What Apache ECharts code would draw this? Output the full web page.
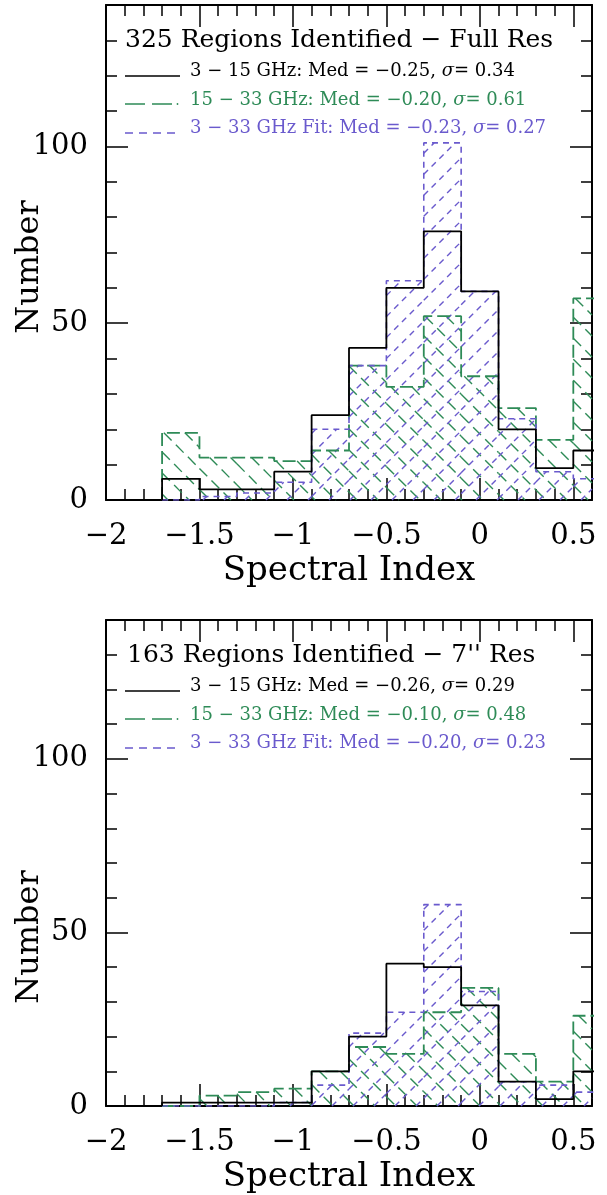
<!DOCTYPE html>
<html><head><meta charset="utf-8">
<script src="https://cdn.jsdelivr.net/npm/echarts@6/dist/echarts.min.js"></script>
<style>html,body{margin:0;padding:0;background:#fff}#c{width:607px;height:1195px}</style>
</head><body><div id="c"></div>
<script>
// ---- data ----
const binLeft = [-1.7, -1.5, -1.3, -1.1, -0.9, -0.7, -0.5, -0.3, -0.1, 0.1, 0.3, 0.5];
const binWidth = 0.2;

const fullBlack  = [6, 3, 3, 8, 24, 43, 60, 76, 59, 20, 9, 14];
const fullGreen  = [19, 12, 12, 11, 14, 38, 32, 52, 35, 26, 17, 57];
const fullPurple = [0, 1, 2, 5, 20, 38, 62, 101, 59, 23, 8, 6];

const resBlack  = [1, 1, 1, 1, 10, 20, 41, 40, 29, 7, 2, 10];
const resGreen  = [0, 3, 4, 5, 10, 17, 15, 27, 34, 15, 7, 26];
const resPurple = [0, 0, 0, 1, 6, 21, 27, 58, 33, 7, 6, 4];

const titles = ['325 Regions Identified \u2212 Full Res', "163 Regions Identified \u2212 7'' Res"];
const legendTexts = [
  ['3 \u2212 15 GHz: Med = \u22120.25, {i|\u03c3}= 0.34', '15 \u2212 33 GHz: Med = \u22120.20, {i|\u03c3}= 0.61', '3 \u2212 33 GHz Fit: Med = \u22120.23, {i|\u03c3}= 0.27'],
  ['3 \u2212 15 GHz: Med = \u22120.26, {i|\u03c3}= 0.29', '15 \u2212 33 GHz: Med = \u22120.10, {i|\u03c3}= 0.48', '3 \u2212 33 GHz Fit: Med = \u22120.20, {i|\u03c3}= 0.23']
];
const xName = 'Spectral Index';
const yName = 'Number';

// ---- style ----
const FONT = "'DejaVu Serif', serif";
const BLACK = '#000000', GREEN = '#2e8b57', PURPLE = '#6a5acd';
const panels = [
  {top: 5, height: 495, yNameY: 267, black: fullBlack, green: fullGreen, purple: fullPurple},
  {top: 620, height: 494, yNameY: 937, black: resBlack, green: resGreen, purple: resPurple}
];
const LEFT = 106, WIDTH = 486;

function stepData(vals) {
  const d = [[binLeft[0], 0]];
  vals.forEach((v, i) => d.push([binLeft[i], v]));
  d.push([binLeft[binLeft.length - 1] + binWidth, vals[vals.length - 1]]);
  d.push([binLeft[binLeft.length - 1] + binWidth, 0]);
  return d;
}
function hatchData(vals) {
  return binLeft.map((x, i) => [x, x + binWidth, vals[i]]);
}
function hatchRender(dir, spacing, phase, color, dash, lw) {
  return function (params, api) {
    const x0 = api.value(0), x1 = api.value(1), v = api.value(2);
    if (!(v > 0)) return {type: 'group', children: []};
    const cs = params.coordSys;
    const p0 = api.coord([x0, v]), p1 = api.coord([x1, 0]);
    const X0 = Math.max(p0[0], cs.x), X1 = Math.min(p1[0], cs.x + cs.width);
    const Y0 = p0[1], Y1 = p1[1];
    const children = [];
    const st = {stroke: color, lineWidth: lw, lineDash: dash, fill: null};
    if (dir > 0) { // "\" : y = x - c
      const cmin = X0 - Y1, cmax = X1 - Y0;
      for (let k = Math.ceil((cmin - phase) / spacing); k * spacing + phase <= cmax; k++) {
        const c = k * spacing + phase;
        const xa = Math.max(X0, Y0 + c), xb = Math.min(X1, Y1 + c);
        if (xb - xa > 0.5) children.push({type: 'line', shape: {x1: xa, y1: xa - c, x2: xb, y2: xb - c}, style: st});
      }
    } else { // "/" : x + y = c
      const cmin = X0 + Y0, cmax = X1 + Y1;
      for (let k = Math.ceil((cmin - phase) / spacing); k * spacing + phase <= cmax; k++) {
        const c = k * spacing + phase;
        const xa = Math.max(X0, c - Y1), xb = Math.min(X1, c - Y0);
        if (xb - xa > 0.5) children.push({type: 'line', shape: {x1: xa, y1: c - xa, x2: xb, y2: c - xb}, style: st});
      }
    }
    return {type: 'group', children: children};
  };
}
const fmt = v => (v < 0 ? '\u2212' + String(-v) : String(v));

const grid = [], xAxis = [], yAxis = [], series = [], graphic = [];
panels.forEach((p, gi) => {
  grid.push({left: LEFT, top: p.top, width: WIDTH, height: p.height, containLabel: false});
  const lineS = {color: BLACK, width: 2};
  const tickS = {color: BLACK, width: 1.5};
  [['bottom', 0.5, 22, true], ['bottom', 0.1, 11, false], ['top', 0.5, 22, false], ['top', 0.1, 11, false]].forEach(([pos, iv, len, lab], j) => {
    xAxis.push({
      type: 'value', gridIndex: gi, position: pos, min: -2, max: 0.6, interval: iv,
      axisLine: {show: j === 0 || j === 2, lineStyle: lineS, onZero: false},
      axisTick: {show: true, inside: true, length: len, lineStyle: tickS},
      axisLabel: {show: lab, fontFamily: FONT, fontSize: 29, color: BLACK, margin: 22, showMaxLabel: false, showMinLabel: true, formatter: fmt},
      splitLine: {show: false},
      name: j === 0 ? xName : '', nameLocation: 'middle', nameGap: 54,
      nameTextStyle: {fontFamily: FONT, fontSize: 34, color: BLACK}
    });
  });
  [['left', 50, 22, true], ['left', 10, 11, false], ['right', 50, 22, false], ['right', 10, 11, false]].forEach(([pos, iv, len, lab], j) => {
    yAxis.push({
      type: 'value', gridIndex: gi, position: pos, min: 0, max: 140, interval: iv,
      axisLine: {show: j === 0 || j === 2, lineStyle: lineS, onZero: false},
      axisTick: {show: true, inside: true, length: len, lineStyle: tickS},
      axisLabel: {show: lab, fontFamily: FONT, fontSize: 29, color: BLACK, margin: 18, showMaxLabel: false, formatter: fmt},
      splitLine: {show: false}
    });
  });
  const xi = gi * 4, yi = gi * 4;
  series.push({type: 'custom', xAxisIndex: xi, yAxisIndex: yi, silent: true, animation: false, z: 2,
    encode: {x: [0, 1], y: 2}, data: hatchData(p.green), renderItem: hatchRender(1, 21, 4, GREEN, [11, 6], 1.4)});
  series.push({type: 'custom', xAxisIndex: xi, yAxisIndex: yi, silent: true, animation: false, z: 2,
    encode: {x: [0, 1], y: 2}, data: hatchData(p.purple), renderItem: hatchRender(-1, 21, 10, PURPLE, [6, 5], 1.4)});
  series.push({type: 'line', xAxisIndex: xi, yAxisIndex: yi, step: 'end', symbol: 'none', silent: true, animation: false, z: 3,
    data: stepData(p.green), lineStyle: {color: GREEN, width: 1.8, type: [13, 5]}});
  series.push({type: 'line', xAxisIndex: xi, yAxisIndex: yi, step: 'end', symbol: 'none', silent: true, animation: false, z: 4,
    data: stepData(p.purple), lineStyle: {color: PURPLE, width: 1.6, type: [6, 5]}});
  series.push({type: 'line', xAxisIndex: xi, yAxisIndex: yi, step: 'end', symbol: 'none', silent: true, animation: false, z: 5,
    data: stepData(p.black), lineStyle: {color: BLACK, width: 1.8}});

  // y-axis title
  graphic.push({type: 'text', x: 30, y: p.yNameY, rotation: Math.PI / 2,
    style: {text: yName, font: '32px ' + FONT, fill: BLACK, textAlign: 'center', textVerticalAlign: 'middle', verticalAlign: 'middle'}});

  // title and legend
  const t = p.top;
  graphic.push({type: 'text', left: 125 + (gi ? 2 : 0), top: t + 38 - 15, style: {text: titles[gi], font: '25px ' + FONT, fill: BLACK}});
  const cols = [BLACK, GREEN, PURPLE];
  const rowC = [68, 97, 125];
  const lineY = [71, 99, 128];
  legendTexts[gi].forEach((txt, r) => {
    graphic.push({type: 'text', left: 190, top: t + rowC[r] - 11,
      style: {text: txt, font: '18px ' + FONT, fill: cols[r],
        rich: {i: {fontStyle: 'italic', fontFamily: FONT, fontSize: 18, fill: cols[r], color: cols[r]}}}});
  });
  graphic.push({type: 'line', shape: {x1: 125, y1: t + lineY[0], x2: 180, y2: t + lineY[0]}, style: {stroke: BLACK, lineWidth: 1.5}});
  graphic.push({type: 'line', shape: {x1: 125, y1: t + lineY[1], x2: 172, y2: t + lineY[1]}, style: {stroke: GREEN, lineWidth: 1.5, lineDash: [20, 7]}});
  graphic.push({type: 'circle', shape: {cx: 177.5, cy: t + lineY[1], r: 0.9}, style: {fill: GREEN}});
  graphic.push({type: 'line', shape: {x1: 125, y1: t + lineY[2], x2: 176, y2: t + lineY[2]}, style: {stroke: PURPLE, lineWidth: 1.5, lineDash: [8, 6]}});
});

const chart = echarts.init(document.getElementById('c'), null, {renderer: 'canvas'});
chart.setOption({animation: false, backgroundColor: '#ffffff', grid, xAxis, yAxis, series, graphic});
</script></body></html>
